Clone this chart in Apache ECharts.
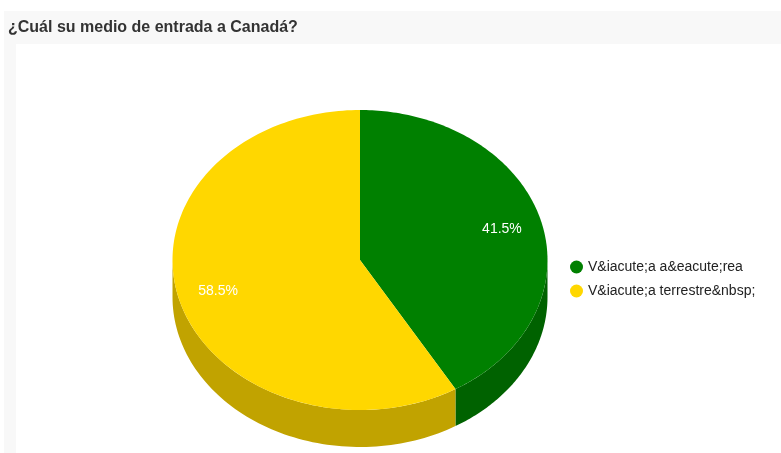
<!DOCTYPE html>
<html>
<head>
<meta charset="utf-8">
<script src="https://cdn.jsdelivr.net/npm/echarts@6/dist/echarts.min.js"></script>
<style>
  html, body { margin: 0; padding: 0; background: #fff; }
  #chart { width: 781px; height: 453px; }
</style>
</head>
<body>
<div id="chart"></div>
<script>
// datos de la encuesta
var categories = ['V&iacute;a a&eacute;rea', 'V&iacute;a terrestre&nbsp;'];
var values = [41.5, 58.5];
var topColors = ['#008000', '#ffd700'];
var sideColors = ['#006200', '#c1a300'];

// geometria del pastel 3d
var cx = 360, cy = 260, rx = 187.5, ry = 150, depth = 37;

var total = values.reduce(function (a, b) { return a + b; }, 0);

function pt(t, dy) {
    return [cx + rx * Math.sin(t), cy - ry * Math.cos(t) + (dy || 0)];
}

function sliceSeries(idx) {
    var before = 0;
    for (var i = 0; i < idx; i++) before += values[i];
    return {
        type: 'custom',
        name: categories[idx],
        coordinateSystem: 'none',
        color: topColors[idx],
        data: [[values[idx]]],
        renderItem: function (params, api) {
            var v = api.value(0);
            var a1 = before / total * Math.PI * 2;
            var a2 = (before + v) / total * Math.PI * 2;
            var children = [];

            // lado visible (mitad inferior)
            var s = Math.max(a1, Math.PI / 2), e = Math.min(a2, Math.PI * 1.5);
            if (s < e) {
                var side = [];
                var n = 80;
                for (var k = 0; k <= n; k++) side.push(pt(s + (e - s) * k / n));
                for (var k = n; k >= 0; k--) side.push(pt(s + (e - s) * k / n, depth));
                children.push({
                    type: 'polygon', z2: 1,
                    shape: { points: side },
                    style: { fill: sideColors[idx] }
                });
            }

            // cara superior
            var top = [[cx, cy]];
            var m = 160;
            for (var k = 0; k <= m; k++) top.push(pt(a1 + (a2 - a1) * k / m));
            children.push({
                type: 'polygon', z2: 2,
                shape: { points: top },
                style: { fill: topColors[idx] }
            });

            // etiqueta de porcentaje
            var mid = (a1 + a2) / 2;
            var lp = [cx + rx * 0.785 * Math.sin(mid), cy - ry * 0.785 * Math.cos(mid)];
            children.push({
                type: 'text', z2: 3,
                x: lp[0], y: lp[1],
                style: {
                    text: (v / total * 100).toFixed(1) + '%',
                    fill: '#fff',
                    font: '14px Arial, "Liberation Sans", sans-serif',
                    align: 'center',
                    verticalAlign: 'middle'
                }
            });
            return { type: 'group', children: children };
        }
    };
}

var chart = echarts.init(document.getElementById('chart'));
chart.setOption({
    animation: false,
    title: {
        text: '¿Cuál su medio de entrada a Canadá?',
        left: 3,
        top: 15,
        textStyle: {
            fontFamily: 'Arial, "Liberation Sans", sans-serif',
            fontSize: 16,
            fontWeight: 'bold',
            color: '#333'
        }
    },
    legend: {
        orient: 'vertical',
        left: 565,
        top: 255,
        icon: 'circle',
        itemWidth: 13,
        itemHeight: 13,
        itemGap: 10,
        data: categories,
        textStyle: {
            fontFamily: 'Arial, "Liberation Sans", sans-serif',
            fontSize: 14,
            color: '#222'
        }
    },
    graphic: [
        { type: 'rect', z: -10, shape: { x: 4, y: 11, width: 777, height: 33 }, style: { fill: '#f8f8f8' } },
        { type: 'rect', z: -10, shape: { x: 4, y: 44, width: 12, height: 409 }, style: { fill: '#f8f8f8' } }
    ],
    series: categories.map(function (c, i) { return sliceSeries(i); })
});
</script>
</body>
</html>
